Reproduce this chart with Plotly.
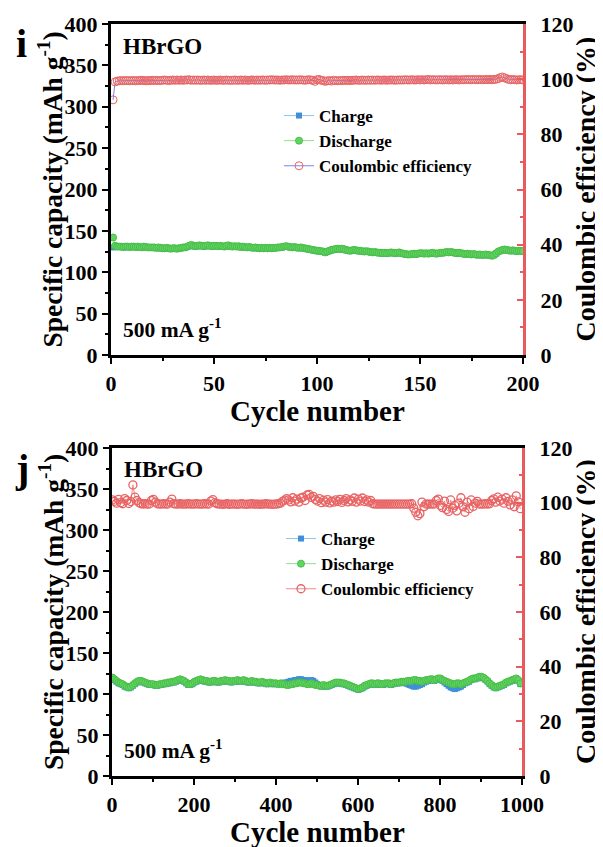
import plotly.graph_objects as go

# ---------------- Panel i data (cycles 1..200) ----------------
cycles_i = list(range(1, 201))
charge_i = [
    130,
    131,130.5,130.5,130.5,130,130.5,130.5,130,130.5,
    130.5,130,130.5,130,129.5,130.5,130,129.5,129.5,129.5,
    129.5,129,129.5,129,128.5,128.5,129,128.5,128,128.5,
    128.5,128,128.5,129,129.5,129.5,130.5,131.5,132.5,131.5,
    131,131.5,132,131.5,131,131.5,132,131.5,131,131.5,
    131.5,131,131.5,131,130.5,131.5,132,131,130.5,131,
    130.5,131,130,130.5,130,129.5,130,129.5,129,129.5,
    129,128.5,129,128.5,129,128.5,129,128.5,129,129,
    129.5,129.5,130,130.5,131,130.5,130,129.5,130,129.5,
    129,129.5,129,128.5,128,127.5,127,126.5,126,125.5,
    125.5,125,124.5,123.5,124.5,125.5,126.5,127,127.5,128,
    127.5,128,127.5,126.5,126,125.5,126,126.5,126,125.5,
    125.5,125,124.5,125,124.5,124,123.5,124,123.5,123,
    123,122.5,123,122.5,123,123.5,123,122.5,123,123.5,
    122.5,122,121.5,121,121,121.5,122,121.5,122,122.5,
    122.5,122,122.5,122,122.5,123,122.5,122,122.5,123,
    123,123.5,124,123.5,124,123.5,123,122.5,123,122.5,
    122,121.5,122,121.5,121,121.5,121,120.5,121,120.5,
    120.5,121,120.5,120,119.5,120.5,122.5,124.5,125.5,126.5,
    127,126.5,126,125.5,126,125.5,125,125.5,125.5,125,
]
discharge_i = [
    142,
    132,131,131,131,130.5,131,131,130.5,131,
    131,130.5,131,130.5,130,131,130.5,130,130,130,
    130,129.5,130,129.5,129,129,129.5,129,128.5,129,
    129,128.5,129,129.5,130,130,131,132,133,132,
    131.5,132,132.5,132,131.5,132,132.5,132,131.5,132,
    132,131.5,132,131.5,131,132,132.5,131.5,131,131.5,
    131,131.5,130.5,131,130.5,130,130.5,130,129.5,130,
    129.5,129,129.5,129,129.5,129,129.5,129,129.5,129.5,
    130,130,130.5,131,131.5,131,130.5,130,130.5,130,
    129.5,130,129.5,129,128.5,128,127.5,127,126.5,126,
    126,125.5,125,124,125,126,127,127.5,128,128.5,
    128,128.5,128,127,126.5,126,126.5,127,126.5,126,
    126,125.5,125,125.5,125,124.5,124,124.5,124,123.5,
    123.5,123,123.5,123,123.5,124,123.5,123,123.5,124,
    123,122.5,122,121.5,121.5,122,122.5,122,122.5,123,
    123,122.5,123,122.5,123,123.5,123,122.5,123,123.5,
    123.5,124,124.5,124,124.5,124,123.5,123,123.5,123,
    122.5,122,122.5,122,121.5,122,121.5,121,121.5,121,
    121,121.5,121,120.5,120,121,123,125,126,127,
    127.5,127,126.5,126,126.5,126,125.5,126,126,125.5,
]
ce_i = [
    92.5,99.0,
    99.3,99.4,99.5,99.4,99.5,99.5,99.4,99.5,
    99.5,99.4,99.5,99.5,99.6,99.5,99.4,99.5,99.5,99.6,
    99.5,99.6,99.5,99.5,99.6,99.7,99.6,99.5,99.6,99.7,
    99.6,99.7,99.6,99.7,99.6,99.7,99.7,99.8,99.6,99.7,
    99.6,99.7,99.6,99.6,99.7,99.6,99.7,99.6,99.6,99.7,
    99.6,99.6,99.7,99.6,99.6,99.7,99.6,99.6,99.6,99.7,
    99.6,99.6,99.7,99.6,99.7,99.6,99.6,99.7,99.7,99.6,
    99.7,99.6,99.7,99.7,99.6,99.7,99.7,99.8,99.7,99.7,
    99.7,99.6,99.7,99.7,99.8,99.7,99.7,99.8,99.7,99.7,
    99.7,99.8,99.7,99.6,99.7,99.8,99.7,99.6,99.2,99.8,
    99.9,99.6,99.5,99.2,99.4,99.5,99.3,99.6,99.5,99.4,
    99.5,99.5,99.6,99.5,99.6,99.5,99.6,99.6,99.7,99.6,
    99.6,99.7,99.6,99.6,99.7,99.6,99.7,99.6,99.7,99.7,
    99.6,99.7,99.7,99.6,99.7,99.7,99.7,99.6,99.7,99.7,
    99.7,99.7,99.8,99.7,99.7,99.8,99.7,99.7,99.8,99.7,
    99.8,99.7,99.8,99.9,99.7,99.8,99.8,99.7,99.8,99.8,
    99.7,99.8,99.8,99.7,99.8,99.7,99.8,99.8,99.7,99.8,
    99.8,99.8,99.9,99.8,99.8,99.9,99.8,99.8,99.9,99.8,
    99.8,99.9,99.8,99.9,99.8,99.9,100.0,100.2,100.6,100.8,
    100.5,100.2,99.9,99.8,99.9,99.8,99.7,99.8,99.8,99.7,
]

# ---------------- Panel j data (every 5th cycle, 1..996) ----------------
cycles_j = list(range(1, 1001, 5))
charge_j = [
    119,117,115,113,112,111,109,108,107,108,
    110,112,114,115,115,114,113,112,111,111,
    111,110,110,111,111,112,112,113,113,114,
    114,115,116,117,116,115,113,111,111,112,
    114,115,116,117,116,115,115,114,114,115,
    115,114,114,115,115,116,115,115,114,115,
    115,116,115,115,116,115,114,114,115,114,
    114,113,113,114,113,112,112,113,112,112,
    112,112,113,113,114,114,115,116,116,117,
    117,118,118,117,117,116,116,117,116,114,
    112,110,109,110,109,109,110,111,112,113,
    113,113,112,112,111,110,109,108,107,106,
    105,106,107,109,110,111,112,112,111,112,
    112,111,111,112,112,112,111,112,113,113,
    113,114,114,113,112,111,110,109,109,110,
    111,112,114,115,116,117,117,116,117,118,
    118,116,114,112,110,108,107,106,107,108,
    109,111,113,114,115,117,118,118,119,120,
    120,119,117,115,112,110,108,107,108,109,
    110,111,113,114,115,116,117,118,116,112,
]
discharge_j = [
    120,118,116,114,113,112,110,109,108,109,
    111,113,115,116,116,115,114,113,112,112,
    112,111,111,112,112,113,113,114,114,115,
    115,116,117,118,117,116,114,112,112,113,
    115,116,117,118,117,116,116,115,115,116,
    116,115,115,116,116,117,116,116,115,116,
    116,117,116,116,117,116,115,115,116,115,
    115,114,114,115,114,113,113,114,113,113,
    113,112,113,112,112,111,111,112,112,113,
    113,114,114,113,113,112,112,113,112,111,
    111,110,110,111,110,110,111,112,113,114,
    114,114,113,113,112,111,110,109,108,107,
    106,107,108,110,111,112,113,113,112,113,
    113,112,112,113,113,113,112,113,114,114,
    114,115,115,115,116,116,116,117,117,116,
    116,115,116,117,117,118,118,117,118,119,
    119,117,116,115,114,113,112,112,113,113,
    112,113,114,115,116,118,119,119,120,121,
    121,120,118,116,113,111,109,108,109,110,
    111,112,114,115,116,117,118,119,117,113,
]
ce_j = [
    101.0,100.5,99.8,101.2,100.0,99.6,101.5,100.8,99.7,100.4,
    106.5,102.0,100.8,100.0,99.6,99.5,99.6,99.5,99.5,100.8,
    101.2,100.2,99.6,99.5,99.5,99.6,99.5,99.5,100.2,101.3,
    99.6,99.5,99.5,99.6,99.5,99.5,99.5,99.6,99.5,99.5,
    99.5,99.6,99.5,99.5,99.5,99.6,99.5,99.5,100.6,101.1,
    100.0,99.6,99.5,99.5,99.4,99.5,99.6,99.4,99.5,99.5,
    99.5,99.4,99.5,99.6,99.5,99.4,99.5,99.5,99.6,99.5,
    99.5,99.5,99.4,99.5,99.5,99.6,99.5,99.5,99.4,99.5,
    99.5,99.6,99.8,100.5,100.9,101.5,101.0,100.3,101.8,100.6,
    101.3,100.2,101.7,102.0,100.8,102.8,103.0,101.9,102.3,101.2,
    100.6,101.5,100.0,100.9,100.2,101.1,99.9,100.6,100.2,101.0,
    100.4,101.2,100.1,100.8,101.5,100.3,101.0,100.5,101.7,100.2,
    101.3,100.6,101.7,100.4,101.0,100.2,100.8,99.6,99.5,99.5,
    99.5,99.5,99.5,99.5,99.5,99.5,99.5,99.5,99.5,99.5,
    99.5,99.5,99.5,99.5,99.5,99.5,99.6,98.0,96.5,95.2,
    96.0,100.2,98.5,99.5,99.5,99.5,99.5,99.5,100.8,101.3,
    99.0,98.2,100.6,97.5,96.8,101.0,98.0,99.0,97.0,99.8,
    101.8,98.5,96.5,100.2,97.8,101.0,98.6,99.8,100.5,99.5,
    99.5,99.5,99.6,99.5,99.6,100.8,101.4,100.2,102.0,100.6,
    101.3,99.8,101.8,100.5,99.2,101.0,98.5,102.5,100.3,97.8,
]

panel_labels = ["i", "j"]
sample_name = "HBrGO"
rate_label = "500 mA g<sup>-1</sup>"
ylab_left = "Specific capacity (mAh g<sup>-1</sup>)"
ylab_right = "Coulombic efficiency (%)"
xlab = "Cycle number"
series_names = ["Charge", "Discharge", "Coulombic efficiency"]

# ---------------- Styling ----------------
W, H = 603, 847
OFF = 8  # page body margin in the browser
FONT = "Liberation Serif"
BLUE = "#3F8FDA"
BLUE_LINE = "#8EC3F0"
GREEN = "#62D462"
GREEN_EDGE = "#48BE48"
RED = "#E86464"
RED_AX = "#E85A5C"
PURPLE = "#8080EE"

def px_x(p):
    return (p - OFF) / W

def px_y(p):
    return 1 - (p - OFF) / H

fig = go.Figure()

panels = [
    dict(l=111, r=523, t=24, b=355, xs="x", ys="y", ys2="y2", xr=[0, 200], xd=50, xm=25,
         cyc=cycles_i, ch=charge_i, dc=discharge_i, ce=ce_i, celine=PURPLE, leg="legend", cew=1),
    dict(l=112, r=522, t=448, b=776, xs="x2", ys="y3", ys2="y4", xr=[0, 1000], xd=200, xm=100,
         cyc=cycles_j, ch=charge_j, dc=discharge_j, ce=ce_j, celine="#F08A8A", leg="legend2", cew=1.3),
]

for p in panels:
    fig.add_trace(go.Scatter(
        x=p["cyc"], y=p["ch"], name="<b>%s</b>" % series_names[0], mode="lines+markers",
        xaxis=p["xs"], yaxis=p["ys"], legend=p["leg"],
        line=dict(color=BLUE_LINE, width=1),
        marker=dict(symbol="square", size=6, color=BLUE, line=dict(width=0)),
    ))
    fig.add_trace(go.Scatter(
        x=p["cyc"], y=p["dc"], name="<b>%s</b>" % series_names[1], mode="lines+markers",
        xaxis=p["xs"], yaxis=p["ys"], legend=p["leg"],
        line=dict(color="#8FE08F", width=1),
        marker=dict(symbol="circle", size=7, color=GREEN, line=dict(width=1, color=GREEN_EDGE)),
    ))
    fig.add_trace(go.Scatter(
        x=p["cyc"], y=p["ce"], name="<b>%s</b>" % series_names[2], mode="lines+markers",
        xaxis=p["xs"], yaxis=p["ys2"], legend=p["leg"],
        line=dict(color=p["celine"], width=1),
        marker=dict(symbol="circle-open", size=8, color=RED, line=dict(width=p["cew"], color=RED)),
    ))

tickfont = dict(family=FONT, size=22, color="black", weight="bold")

layout = dict(
    width=W, height=H, margin=dict(l=0, r=0, t=0, b=0, autoexpand=False),
    paper_bgcolor="white", plot_bgcolor="white",
    font=dict(family=FONT, color="black"),
)

axis_names = [("xaxis", "yaxis", "yaxis2", "y", "x"), ("xaxis2", "yaxis3", "yaxis4", "y3", "x2")]
for p, (xa, ya, ya2, yref, xref) in zip(panels, axis_names):
    xdom = [px_x(p["l"]), px_x(p["r"])]
    ydom = [px_y(p["b"]), px_y(p["t"])]
    layout[xa] = dict(
        domain=xdom, anchor=yref, range=p["xr"], dtick=p["xd"], tick0=0, automargin=False,
        showline=True, linecolor="black", linewidth=3, mirror=True,
        ticks="outside", ticklen=6, tickwidth=2, tickcolor="black", ticklabelstandoff=1,
        minor=dict(dtick=p["xm"], ticks="outside", ticklen=3, tickwidth=2, tickcolor="black"),
        showgrid=False, zeroline=False, tickfont=tickfont,
    )
    layout[ya] = dict(
        domain=ydom, anchor=xref, range=[0, 400], dtick=50, tick0=0, automargin=False,
        showline=True, linecolor="black", linewidth=3,
        ticks="outside", ticklen=6, tickwidth=2, tickcolor="black",
        minor=dict(dtick=25, ticks="outside", ticklen=3, tickwidth=2, tickcolor="black"),
        showgrid=False, zeroline=False, tickfont=tickfont,
    )
    layout[ya2] = dict(
        domain=ydom, anchor=xref, overlaying=yref, side="right", range=[0, 120], dtick=20, tick0=0,
        automargin=False,
        showline=True, linecolor=RED_AX, linewidth=3,
        ticks="inside", ticklen=6, tickwidth=2, tickcolor=RED_AX, ticklabelstandoff=10,
        minor=dict(dtick=10, ticks="inside", ticklen=3, tickwidth=2, tickcolor=RED_AX),
        showgrid=False, zeroline=False, tickfont=tickfont,
    )

legfont = dict(family=FONT, size=17, color="black")
layout["legend"] = dict(x=px_x(279), y=px_y(98), xanchor="left", yanchor="top",
                        bgcolor="rgba(0,0,0,0)", font=legfont, tracegroupgap=0, itemwidth=30)
layout["legend2"] = dict(x=px_x(281), y=px_y(521), xanchor="left", yanchor="top",
                         bgcolor="rgba(0,0,0,0)", font=legfont, tracegroupgap=0, itemwidth=30)

fig.update_layout(**layout)

ann = []
def add_ann(text, x, y, size, xanchor="center", angle=0):
    ann.append(dict(text="<b>%s</b>" % text, x=px_x(x), y=px_y(y), xref="paper", yref="paper",
                    xanchor=xanchor, yanchor="middle", textangle=angle, showarrow=False,
                    font=dict(family=FONT, size=size, color="black")))

for p, lab in zip(panels, panel_labels):
    add_ann(lab, 22, p["t"] + 20, 40)
    add_ann(sample_name, p["l"] + 10, p["t"] + 22, 23, xanchor="left")
    add_ann(rate_label, p["l"] + 10, p["b"] - 27, 21.5, xanchor="left")
    add_ann(ylab_left, 51, (p["t"] + p["b"]) / 2, 27.5, angle=-90)
    add_ann(ylab_right, 585, (p["t"] + p["b"]) / 2, 28, angle=-90)
    add_ann(xlab, (p["l"] + p["r"]) / 2, p["b"] + 56, 29)
fig.update_layout(annotations=ann)

fig.write_html("out.html")
